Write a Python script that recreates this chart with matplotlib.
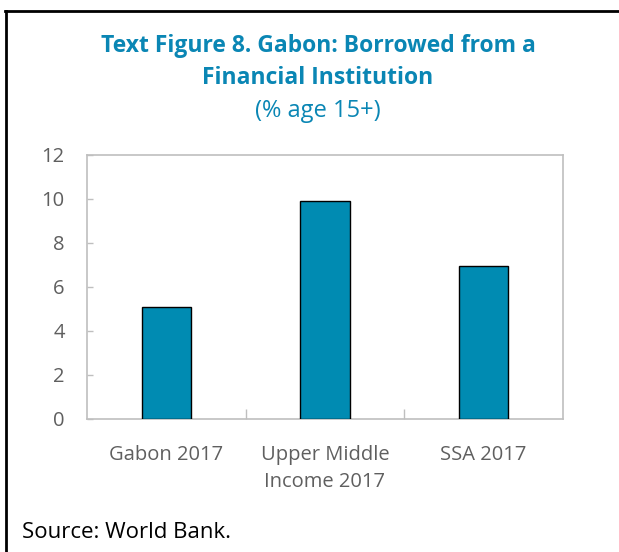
"""
Text Figure 8 - Gabon: borrowed from a financial institution.
"""

import matplotlib.pyplot as plt
from matplotlib.lines import Line2D
import numpy as np

categories = ["Gabon 2017", "Upper Middle\nIncome 2017", "SSA 2017"]
borrowed = [5.1, 9.9, 6.95]
y_ticks = [0, 2, 4, 6, 8, 10, 12]

W, H = 619, 552
BAR_COLOR = "#008BB2"
TITLE_COLOR = "#0A86B4"
SPINE_COLOR = "#BFBFBF"
LABEL_COLOR = "#5F5F5F"

plt.rcParams["font.family"] = ["Open Sans", "DejaVu Sans"]


def main() -> None:
    fig = plt.figure(figsize=(W / 100, H / 100), dpi=100)

    # axes box in pixel terms of the reference
    left, right, top, bottom = 87, 563, 155, 419
    ax = fig.add_axes([left / W, 1 - bottom / H, (right - left) / W, (bottom - top) / H])

    x = np.arange(len(categories))
    ax.bar(x, borrowed, width=0.31, color=BAR_COLOR, edgecolor="black", linewidth=1.0, zorder=3)

    ax.set_xlim(-0.5, len(categories) - 0.5)
    ax.set_ylim(0, 12)
    ax.set_yticks(y_ticks)
    ax.set_yticklabels([str(v) for v in y_ticks])
    ax.set_xticks(x)
    ax.set_xticklabels(categories, linespacing=1.52)
    ax.set_xticks(np.arange(0.5, len(categories) - 1, 1.0), minor=True)

    for side in ax.spines.values():
        side.set_color(SPINE_COLOR)
        side.set_linewidth(1.2)

    ax.tick_params(axis="y", direction="in", length=4, width=1, color=SPINE_COLOR,
                   labelsize=14.5, labelcolor=LABEL_COLOR, pad=16)
    ax.tick_params(axis="x", which="major", length=0, labelsize=14.5, labelcolor=LABEL_COLOR, pad=18.5)
    ax.tick_params(axis="x", which="minor", direction="in", length=7, width=1, color=SPINE_COLOR)

    # title block
    fig.text(318 / W, 1 - 46 / H, "Text Figure 8. Gabon: Borrowed from a", ha="center", va="center",
             fontsize=16.5, fontweight="bold", color=TITLE_COLOR)
    fig.text(318 / W, 1 - 78 / H, "Financial Institution", ha="center", va="center",
             fontsize=16.5, fontweight="bold", color=TITLE_COLOR)
    fig.text(318 / W, 1 - 111 / H, "(% age 15+)", ha="center", va="center",
             fontsize=17, color=TITLE_COLOR)

    fig.text(22 / W, 1 - 532 / H, "Source: World Bank.", ha="left", va="center",
             fontsize=16, color="black")

    # box frame lines at top and left
    fig.add_artist(Line2D([5 / W, 1], [1 - 11 / H, 1 - 11 / H], color="black", linewidth=2,
                          transform=fig.transFigure))
    fig.add_artist(Line2D([6 / W, 6 / W], [0, 1 - 11 / H], color="black", linewidth=2,
                          transform=fig.transFigure))

    fig.savefig("out.png", dpi=100)
    plt.close(fig)


if __name__ == "__main__":
    main()
